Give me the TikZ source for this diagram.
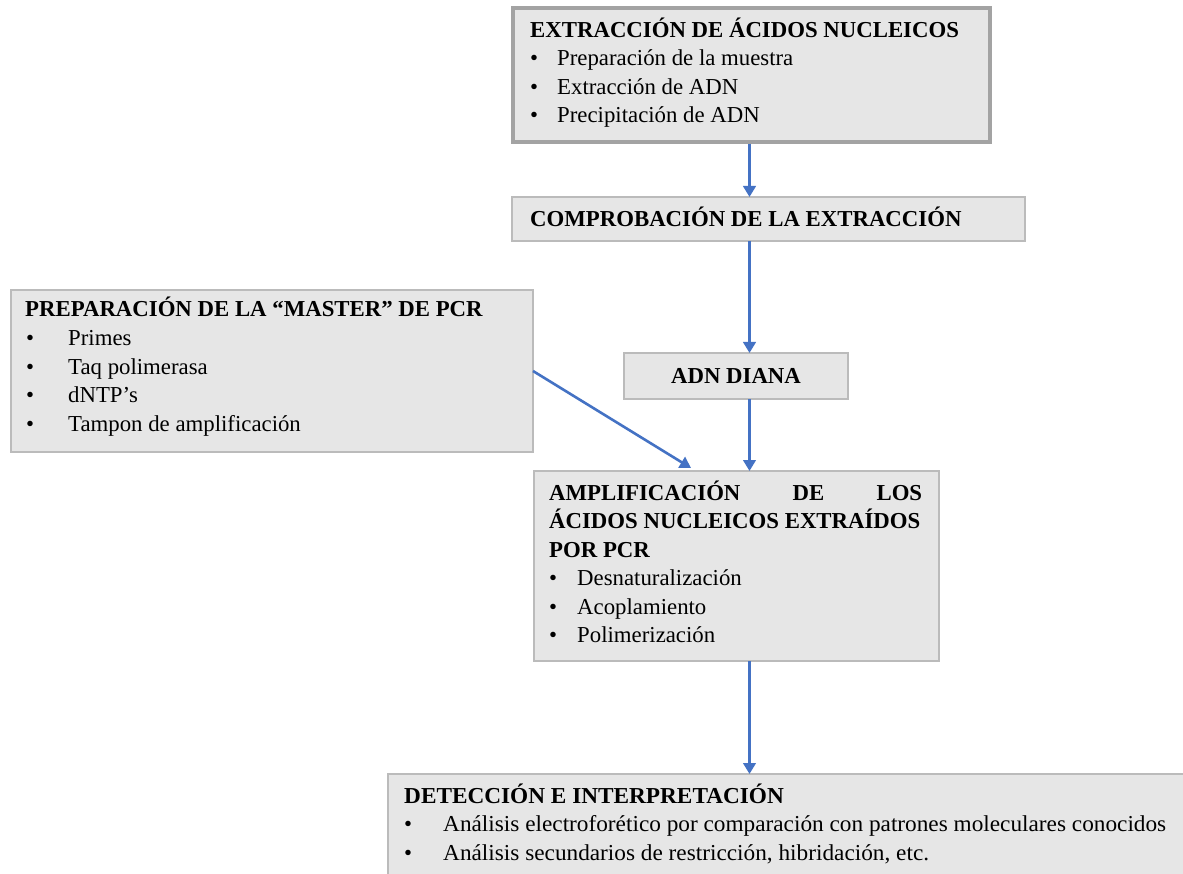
\documentclass[tikz,border=0pt]{standalone}
\usepackage{fontspec}
\setmainfont{Liberation Serif}
\usetikzlibrary{arrows.meta}
\definecolor{boxfill}{HTML}{E6E6E6}
\definecolor{boxline}{HTML}{BBBBBB}
\definecolor{boxlinedark}{HTML}{A3A3A3}
\definecolor{arrowblue}{HTML}{4472C4}
\newsavebox\detA
\begin{document}
\sbox\detA{\fontsize{22.8}{28.5}\selectfont Análisis electroforético por comparación con patrones moleculares conocidos}%
\pgfmathsetmacro\detsx{723/\the\wd\detA}%
\begin{tikzpicture}[x=1pt,y=-1pt,
 box/.style={draw=boxline, line width=1.5pt, fill=boxfill, anchor=north west, inner sep=0pt, outer sep=0pt},
 txt/.style={anchor=base west, inner sep=0pt, font=\fontsize{22.8}{28.5}\selectfont},
 ttl/.style={anchor=base west, inner sep=0pt, font=\fontsize{22.8}{28.5}\selectfont\bfseries},
 ctl/.style={anchor=base, inner sep=0pt, font=\fontsize{22.8}{28.5}\selectfont\bfseries},
 bul/.style={anchor=base, inner sep=0pt, font=\fontsize{22.8}{28.5}\selectfont},
 arr/.style={draw=arrowblue, line width=2.6pt, -{Triangle[width=12.5pt,length=11pt]}}]
\clip (0,0) rectangle (1183,874);
\fill[white] (0,0) rectangle (1183,874);
% boxes
\node[box, line width=3.5pt, draw=boxlinedark, minimum width=477pt, minimum height=134pt] (b1) at (513,8) {};
\node[box, minimum width=513pt, minimum height=44pt] (b2) at (512,197) {};
\node[box, minimum width=522pt, minimum height=162pt] (b3) at (11,290) {};
\node[box, minimum width=224pt, minimum height=46pt] (b4) at (624,353) {};
\node[box, minimum width=405pt, minimum height=190pt] (b5) at (534,471) {};
\node[box, minimum width=810pt, minimum height=120pt] (b6) at (388,774) {};
% box 1 text
\node[ttl] (t1) at (530,37.5) {EXTRACCIÓN DE ÁCIDOS NUCLEICOS};
\node[bul] (u1a) at (534,66) {•};
\node[txt] (t1a) at (557,66) {Preparación de la muestra};
\node[bul] (u1b) at (534,94.5) {•};
\node[txt] (t1b) at (557,94.5) {Extracción de ADN};
\node[bul] (u1c) at (534,123) {•};
\node[txt] (t1c) at (557,123) {Precipitación de ADN};
% box 2 text
\node[ttl] (t2) at (530,226.5) {COMPROBACIÓN DE LA EXTRACCIÓN};
% box 3 text
\node[ttl] (t3) at (25,317) {PREPARACIÓN DE LA “MASTER” DE PCR};
\node[bul] (u3a) at (30,345.5) {•};
\node[txt] (t3a) at (68,345.5) {Primes};
\node[bul] (u3b) at (30,374) {•};
\node[txt] (t3b) at (68,374) {Taq polimerasa};
\node[bul] (u3c) at (30,402.5) {•};
\node[txt] (t3c) at (68,402.5) {dNTP’s};
\node[bul] (u3d) at (30,431) {•};
\node[txt] (t3d) at (68,431) {Tampon de amplificación};
% box 4 text
\node[ctl] (t4) at (736,383.5) {ADN DIANA};
% box 5 text
\node[ttl] (t5a) at (549,500) {\hbox to 373pt{AMPLIFICACIÓN\hfill DE\hfill LOS}};
\node[ttl] (t5b) at (549,528.5) {ÁCIDOS NUCLEICOS EXTRAÍDOS};
\node[ttl] (t5c) at (549,557) {POR PCR};
\node[bul] (u5a) at (553,585.5) {•};
\node[txt] (t5d) at (577,585.5) {Desnaturalización};
\node[bul] (u5b) at (553,614) {•};
\node[txt] (t5e) at (577,614) {Acoplamiento};
\node[bul] (u5c) at (553,642.5) {•};
\node[txt] (t5f) at (577,642.5) {Polimerización};
% box 6 text
\node[ttl] (t6) at (404,803) {\scalebox{\detsx}[1]{DETECCIÓN E INTERPRETACIÓN}};
\node[bul] (u6a) at (408,831.5) {•};
\node[txt] (t6a) at (443,831.5) {\scalebox{\detsx}[1]{Análisis electroforético por comparación con patrones moleculares conocidos}};
\node[bul] (u6b) at (408,860) {•};
\node[txt] (t6b) at (443,860) {\scalebox{\detsx}[1]{Análisis secundarios de restricción, hibridación, etc.}};
% connectors
\coordinate (ax) at (749.5,0);
\coordinate (tipm) at (691,468);
\draw[arr, shorten <=1.75pt] (b1.south -| ax) -- (b2.north -| ax);
\draw[arr] (b2.south -| ax) -- (b4.north -| ax);
\draw[arr] (b4.south -| ax) -- (b5.north -| ax);
\draw[arr] (b5.south -| ax) -- (b6.north -| ax);
\draw[arr] (b3.east) -- (tipm);
\end{tikzpicture}
\end{document}
